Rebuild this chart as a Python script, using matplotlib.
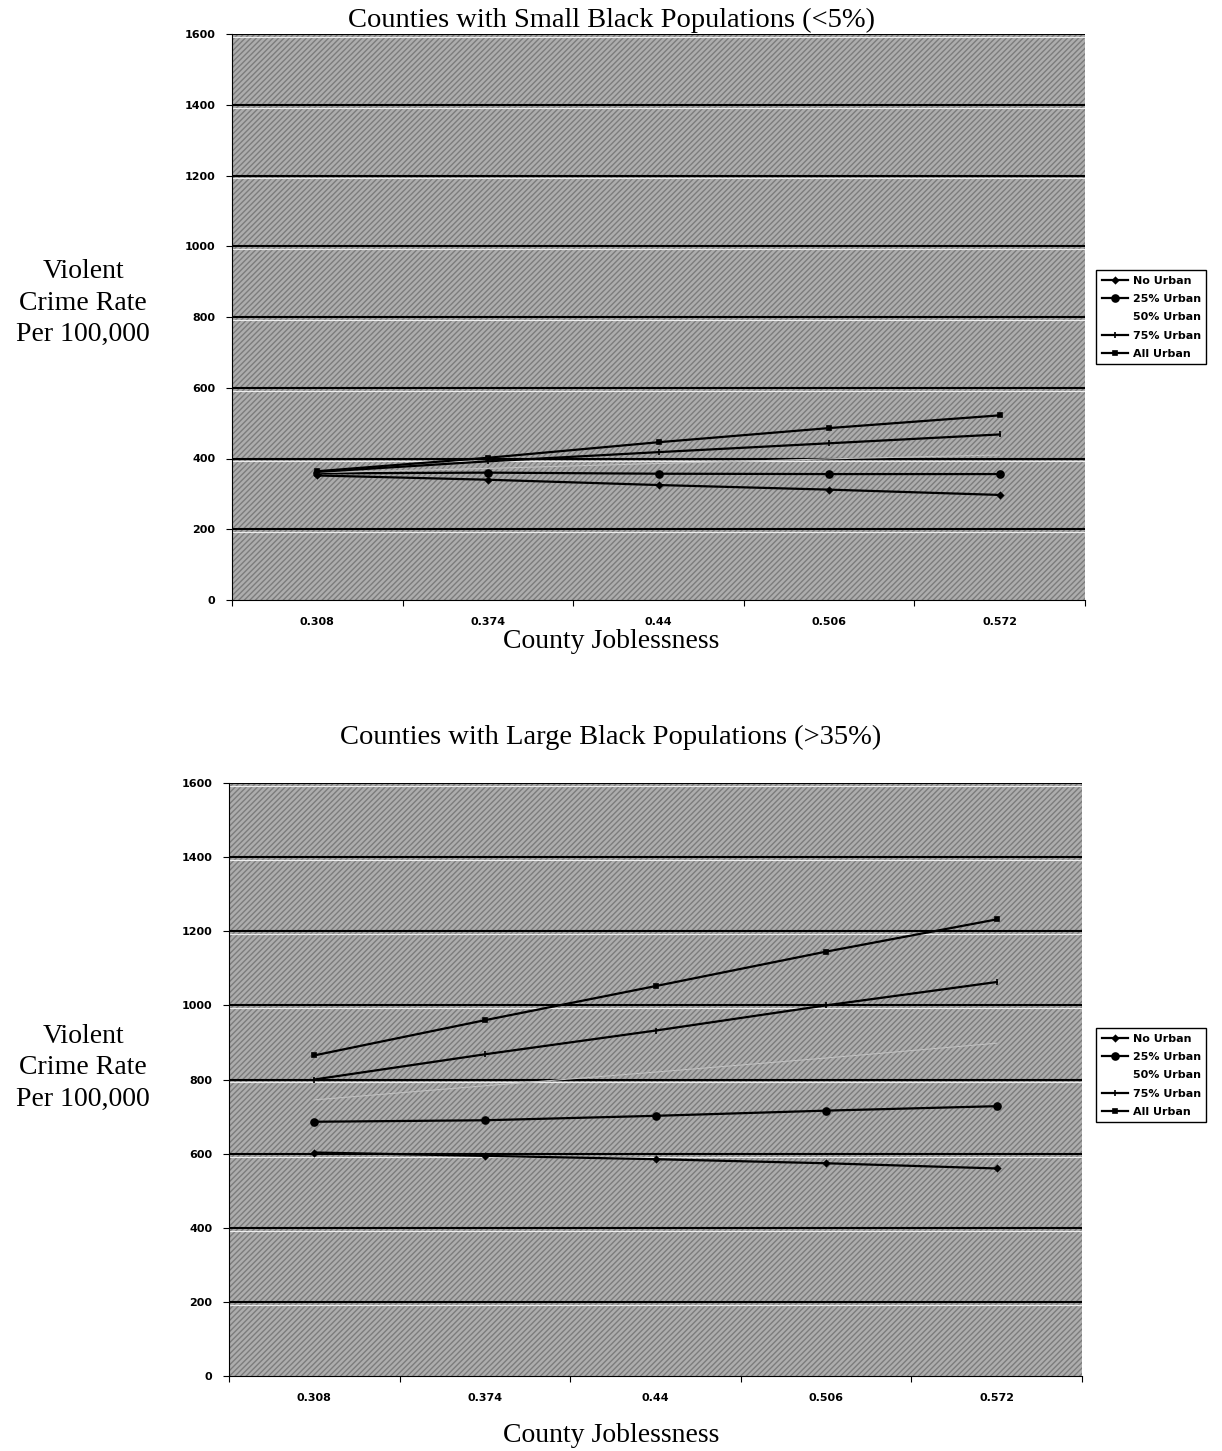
#import neccessary libraries
import numpy as np
import matplotlib.pyplot as plt

#data
jobless = ['0.308', '0.374', '0.44', '0.506', '0.572']
series = ['No Urban', '25% Urban', '50% Urban', '75% Urban', 'All Urban']

small_no = [352, 340, 325, 312, 297]
small_25 = [358, 360, 357, 356, 356]
small_50 = [360, 372, 386, 399, 410]
small_75 = [362, 392, 418, 443, 468]
small_all = [364, 402, 446, 486, 522]

large_no = [603, 594, 585, 574, 560]
large_25 = [686, 690, 702, 716, 728]
large_50 = [745, 783, 820, 858, 898]
large_75 = [800, 868, 932, 1000, 1063]
large_all = [865, 960, 1052, 1145, 1232]

yticks = [0, 200, 400, 600, 800, 1000, 1200, 1400, 1600]

#styles for every series
markers = ['D', 'o', 'None', '|', 's']
msizes = [3, 5, 0, 5, 3]
colors = ['black', 'black', '#c0c0c0', 'black', 'black']
widths = [1.6, 1.6, 0.8, 1.6, 1.6]

serif = 'Liberation Serif'
sans = 'DejaVu Sans'

fig = plt.figure(figsize=(12.22, 14.51), dpi=100)

def panel(rect, data, title, title_y, ylab_y, xlab_y, legend_y):
    ax = fig.add_axes(rect)
    ax.set_facecolor('#adadad')
    ax.add_patch(plt.Rectangle((0, 0), 1, 1, transform=ax.transAxes,
                               facecolor='none', edgecolor='#7c7c7c',
                               hatch='//////', linewidth=0, zorder=0))
    x = np.arange(len(jobless))
    for name, vals, m, ms, c, w in zip(series, data, markers, msizes, colors, widths):
        ax.plot(x, vals, color=c, linewidth=w, marker=m, markersize=ms,
                markeredgewidth=1.2, label=name, zorder=3)
    ax.set_xlim(-0.5, len(jobless) - 0.5)
    ax.set_ylim(0, 1600)
    ax.set_yticks(yticks)
    ax.set_yticklabels([str(v) for v in yticks], fontsize=8,
                       fontweight='bold', family=sans)
    for v in yticks[1:]:
        ax.axhline(v, color='black', linewidth=1.5, zorder=2)
        ax.axhline(v - 8, color='#ececec', linewidth=0.8, zorder=2)
    ax.set_xticks(np.arange(-0.5, len(jobless)), minor=False)
    ax.set_xticklabels([])
    ax.set_xticks(x, minor=True)
    ax.set_xticklabels(jobless, minor=True, fontsize=8, fontweight='bold',
                       family=sans)
    ax.tick_params(axis='x', which='minor', length=0, pad=12)
    ax.tick_params(axis='x', which='major', length=4, direction='out')
    ax.tick_params(axis='y', length=4, direction='out', pad=8)
    ax.spines['top'].set_visible(False)
    ax.spines['right'].set_visible(False)
    fig.text(0.5, title_y, title, ha='center', va='center', fontsize=20.5,
             family=serif)
    fig.text(0.068, ylab_y, 'Violent\nCrime Rate\nPer 100,000', ha='center',
             va='center', fontsize=20, family=serif, linespacing=1.35)
    fig.text(0.5, xlab_y, 'County Joblessness', ha='center', va='center',
             fontsize=20, family=serif)
    leg = ax.legend(loc='upper left', bbox_to_anchor=(1096 / 1222, legend_y),
                    bbox_transform=fig.transFigure, prop={'family': sans,
                    'weight': 'bold', 'size': 8}, frameon=True,
                    fancybox=False, edgecolor='black', framealpha=1,
                    handlelength=2.4, borderpad=0.5, labelspacing=0.75,
                    handletextpad=0.4, borderaxespad=0)
    leg.get_frame().set_linewidth(1.0)
    # the 50% series has no visible key in the legend
    leg.get_lines()[2].set_visible(False)
    return ax

panel([232 / 1222, 1 - 600 / 1451, 853 / 1222, 566 / 1451],
      [small_no, small_25, small_50, small_75, small_all],
      'Counties with Small Black Populations (<5%)',
      1 - 20 / 1451, 1 - 303 / 1451, 1 - 641 / 1451, 1 - 270 / 1451)
panel([229 / 1222, 1 - 1376 / 1451, 853 / 1222, 593 / 1451],
      [large_no, large_25, large_50, large_75, large_all],
      'Counties with Large Black Populations (>35%)',
      1 - 737 / 1451, 1 - 1068 / 1451, 1 - 1435 / 1451, 1 - 1028 / 1451)

plt.savefig('out.png', dpi=100)
